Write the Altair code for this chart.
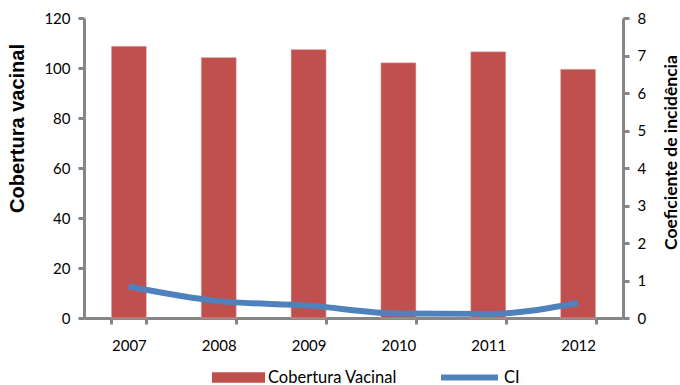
import altair as alt
import pandas as pd

# Vaccination coverage (bars, left axis) and incidence coefficient (line, right axis)
years = ["2007", "2008", "2009", "2010", "2011", "2012"]
cobertura = [108.7, 104.2, 107.4, 102.1, 106.5, 99.5]
ci = [0.84, 0.45, 0.33, 0.12, 0.11, 0.40]

df = pd.DataFrame({"ano": years, "cobertura": cobertura, "ci": ci})

FONT = "Lato"
LEFT_TITLE_FONT = "Liberation Sans"
AXIS_GREY = "#868686"
RED = "#C0504D"
BLUE = "#4F81BD"

x_enc = alt.X(
    "ano:N",
    sort=years,
    scale=alt.Scale(paddingInner=0.61, paddingOuter=0.305),
    axis=alt.Axis(
        title=None, labelAngle=0, tickBand="extent", tickSize=6, tickWidth=3,
        tickColor=AXIS_GREY, domainColor=AXIS_GREY, domainWidth=3,
        labelFont=FONT, labelFontSize=15, labelColor="#000000", labelPadding=14,
    ),
)

bars = (
    alt.Chart(df)
    .transform_calculate(serie="'Cobertura Vacinal'")
    .mark_bar(stroke="#E6B9B8", strokeWidth=0.5)
    .encode(
        x=x_enc,
        y=alt.Y(
            "cobertura:Q",
            scale=alt.Scale(domain=[0, 120]),
            axis=alt.Axis(
                title="Cobertura vacinal", values=[0, 20, 40, 60, 80, 100, 120],
                grid=False, tickSize=6, tickWidth=3, tickColor=AXIS_GREY,
                domainColor=AXIS_GREY, domainWidth=3,
                labelFont=FONT, labelFontSize=15, labelColor="#000000", labelPadding=8,
                titleFont=LEFT_TITLE_FONT, titleFontSize=20, titleFontWeight="bold",
                titleColor="#000000", titleX=-67, titleY=110, titleAngle=270,
                titleBaseline="middle", titleAlign="center",
            ),
        ),
        color=alt.Color(
            "serie:N",
            scale=alt.Scale(domain=["Cobertura Vacinal"], range=[RED]),
            legend=alt.Legend(
                title=None, orient="none", legendX=128, legendY=333,
                symbolType="M-1,-0.2L1,-0.2L1,0.2L-1,0.2Z", symbolSize=2809,
                symbolStrokeWidth=0, labelFont=FONT, labelFontSize=16.5,
                labelColor="#000000", labelOffset=3, padding=0,
            ),
        ),
    )
)

line = (
    alt.Chart(df)
    .transform_calculate(serie="'CI'")
    .mark_line(strokeWidth=6, interpolate="monotone")
    .encode(
        x=x_enc,
        y=alt.Y(
            "ci:Q",
            scale=alt.Scale(domain=[0, 8]),
            axis=alt.Axis(
                title="Coeficiente de incidência", orient="right",
                values=[0, 1, 2, 3, 4, 5, 6, 7, 8], grid=False,
                tickSize=6, tickWidth=3, tickColor=AXIS_GREY,
                domainColor=AXIS_GREY, domainWidth=3,
                labelFont=FONT, labelFontSize=15, labelColor="#000000", labelPadding=8,
                titleFont=FONT, titleFontSize=17.5, titleFontWeight="bold",
                titleColor="#000000", titleX=48, titleY=134, titleAngle=270,
                titleBaseline="middle", titleAlign="center",
            ),
        ),
        color=alt.Color(
            "serie:N",
            scale=alt.Scale(domain=["CI"], range=[BLUE]),
            legend=alt.Legend(
                title=None, orient="none", legendX=354, legendY=328,
                symbolType="stroke", symbolSize=3249, symbolStrokeWidth=6,
                labelFont=FONT, labelFontSize=16.5, labelColor="#000000",
                labelOffset=3, padding=0,
            ),
        ),
    )
)

chart = (
    alt.layer(bars, line)
    .resolve_scale(y="independent", color="independent")
    .properties(
        width=539, height=300,
        padding={"left": 84, "top": 18, "right": 57, "bottom": 67},
        autosize=alt.AutoSizeParams(type="none"),
        background="#FFFFFF",
    )
    .configure_view(stroke=None)
)

chart.save("out.html", embed_options={"renderer": "svg", "actions": False})
